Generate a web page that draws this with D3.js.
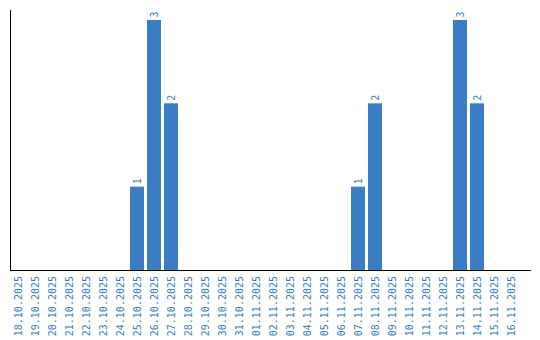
<!DOCTYPE html>
<html><head><meta charset="utf-8">
<script src="https://cdn.jsdelivr.net/npm/d3@7"></script>
<style>body{margin:0;background:#fff}svg{display:block}</style>
</head><body>
<svg id="c" width="540" height="340"></svg>
<script>
const dates = ["18.10.2025","19.10.2025","20.10.2025","21.10.2025","22.10.2025","23.10.2025","24.10.2025","25.10.2025","26.10.2025","27.10.2025","28.10.2025","29.10.2025","30.10.2025","31.10.2025","01.11.2025","02.11.2025","03.11.2025","04.11.2025","05.11.2025","06.11.2025","07.11.2025","08.11.2025","09.11.2025","10.11.2025","11.11.2025","12.11.2025","13.11.2025","14.11.2025","15.11.2025","16.11.2025"];
const counts = [0,0,0,0,0,0,0,1,3,2,0,0,0,0,0,0,0,0,0,0,1,2,0,0,0,0,3,2,0,0];

const color = "#3a7dc4";
const font = "DejaVu Sans Mono, monospace";
const svg = d3.select("#c");
const x = d3.scaleBand().domain(dates).range([9.5, 519.5]).paddingInner(3/17).paddingOuter(1.5/17);
const y = d3.scaleLinear().domain([0, 3]).range([270, 20]);

const data = dates.map((d, i) => ({d, v: counts[i]}));

svg.selectAll("rect.bar").data(data.filter(e => e.v > 0)).join("rect")
  .attr("class", "bar")
  .attr("x", e => x(e.d)).attr("width", x.bandwidth())
  .attr("y", e => y(e.v)).attr("height", e => y(0) - y(e.v))
  .attr("fill", color);

svg.selectAll("text.val").data(data.filter(e => e.v > 0)).join("text")
  .attr("class", "val")
  .attr("transform", e => `translate(${x(e.d) + x.bandwidth()/2 + 3.5},${y(e.v) - 2.5}) rotate(-90)`)
  .attr("font-family", font).attr("font-size", 10)
  .attr("fill", color).attr("text-anchor", "start")
  .text(e => e.v);

// x axis
const xAxis = d3.axisBottom(x).tickSize(0).tickPadding(0);
const gx = svg.append("g").attr("transform", "translate(0,270)").call(xAxis);
gx.select(".domain").remove();
gx.selectAll("text")
  .attr("font-family", font).attr("font-size", 10)
  .attr("fill", color)
  .attr("text-anchor", "end")
  .attr("dy", "0.35em")
  .attr("transform", "translate(0,6) rotate(-90)")
  .attr("x", 0).attr("y", 0);

svg.append("line").attr("x1", 10).attr("x2", 531).attr("y1", 270.5).attr("y2", 270.5).attr("stroke", "#000");
svg.append("line").attr("x1", 10.5).attr("x2", 10.5).attr("y1", 10).attr("y2", 271).attr("stroke", "#000");
</script>
</body></html>
